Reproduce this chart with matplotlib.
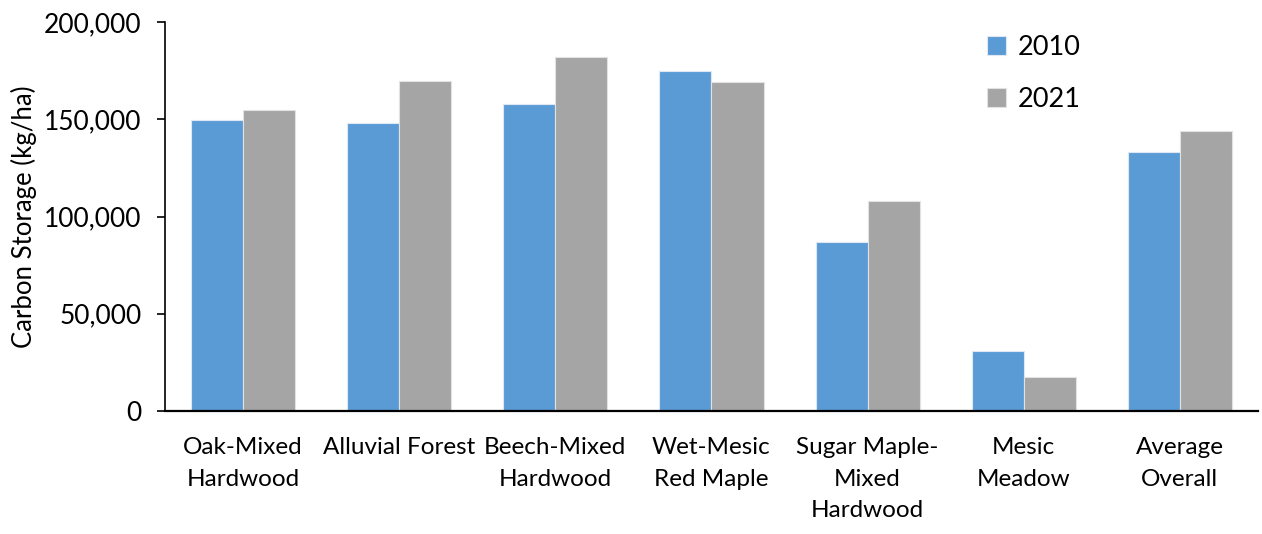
import matplotlib.pyplot as plt
import numpy as np
from matplotlib.ticker import FuncFormatter

plt.rcParams['font.family'] = ['Lato', 'DejaVu Sans']

# carbon storage by forest type, kg/ha
forest_types = ["Oak-Mixed\nHardwood", "Alluvial Forest", "Beech-Mixed\nHardwood",
                "Wet-Mesic\nRed Maple", "Sugar Maple-\nMixed\nHardwood",
                "Mesic\nMeadow", "Average\nOverall"]
storage_2010 = [149500, 148300, 157600, 174700, 87000, 30800, 133300]
storage_2021 = [154700, 169600, 182100, 168900, 107900, 17700, 144000]
years = ["2010", "2021"]

blue = "#5B9BD5"
grey = "#A5A5A5"

fig = plt.figure(figsize=(12.62, 5.34), dpi=100)
ax = fig.add_axes([0.1307, 0.2303, 0.8661, 0.7285])

x = np.arange(len(forest_types))
w = 1 / 3
ax.bar(x - w / 2, storage_2010, w, color=blue, edgecolor="#DDE8F4", linewidth=0.8, label=years[0])
ax.bar(x + w / 2, storage_2021, w, color=grey, edgecolor="#E2E2E2", linewidth=0.8, label=years[1])

ax.set_xlim(-0.5, len(forest_types) - 0.5)
ax.set_ylim(0, 200000)
ax.set_yticks(np.arange(0, 200001, 50000))
ax.yaxis.set_major_formatter(FuncFormatter(lambda v, p: f"{int(v):,}"))
ax.set_xticks(x)
ax.set_xticklabels(forest_types, linespacing=1.62)

ax.spines['top'].set_visible(False)
ax.spines['right'].set_visible(False)
ax.spines['left'].set_linewidth(1.2)
ax.spines['bottom'].set_linewidth(1.6)
ax.tick_params(axis='y', direction='out', length=6, width=1.2, labelsize=19, pad=11)
ax.tick_params(axis='x', length=0, labelsize=17.5, pad=19)
ax.set_ylabel("Carbon Storage (kg/ha)", fontsize=18.5, labelpad=5)

ax.legend(loc='upper right', bbox_to_anchor=(0.86, 1.03), frameon=False, fontsize=19.5,
          handlelength=0.7, handleheight=0.7, handletextpad=0.45, labelspacing=1.0)

fig.savefig("out.png", dpi=100)
